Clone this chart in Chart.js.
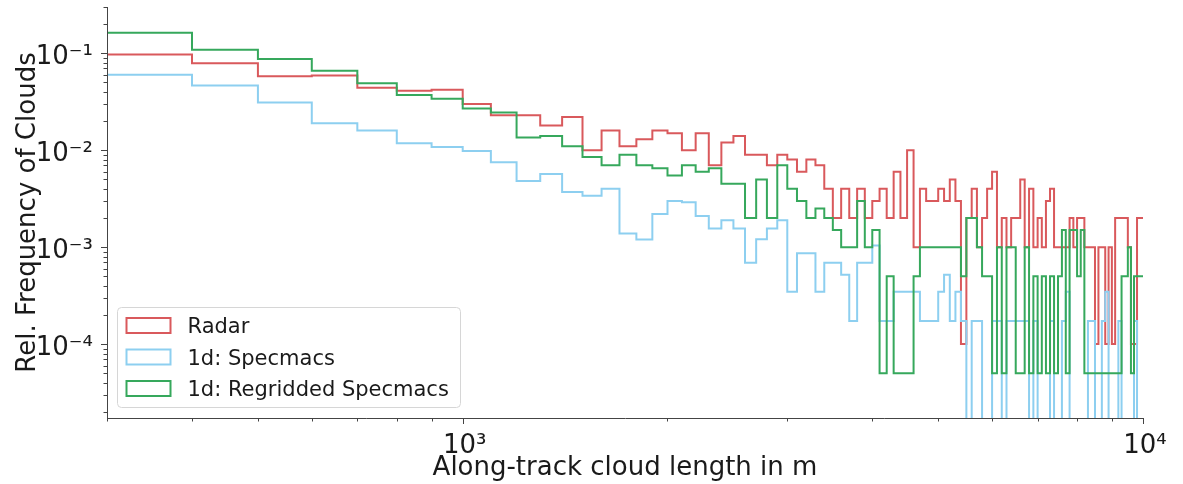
<!DOCTYPE html>
<html>
<head>
<meta charset="utf-8">
<script src="https://cdn.jsdelivr.net/npm/chart.js@4.4.1/dist/chart.umd.min.js"></script>
<style>
  html, body { margin: 0; padding: 0; background: #fff; }
  #wrap { width: 1183px; height: 484px; }
</style>
</head>
<body>
<div id="wrap"><canvas id="chart"></canvas></div>
<script>
// Histogram bin edges in m (100 m bins)
const BIN_EDGES = [
  300, 400, 500, 600, 700, 800, 900, 1000, 1100, 1200,
  1300, 1400, 1500, 1600, 1700, 1800, 1900, 2000, 2100, 2200,
  2300, 2400, 2500, 2600, 2700, 2800, 2900, 3000, 3100, 3200,
  3300, 3400, 3500, 3600, 3700, 3800, 3900, 4000, 4100, 4200,
  4300, 4400, 4500, 4600, 4700, 4800, 4900, 5000, 5100, 5200,
  5300, 5400, 5500, 5600, 5700, 5800, 5900, 6000, 6100, 6200,
  6300, 6400, 6500, 6600, 6700, 6800, 6900, 7000, 7100, 7200,
  7300, 7400, 7500, 7600, 7700, 7800, 7900, 8000, 8100, 8200,
  8300, 8400, 8500, 8600, 8700, 8800, 8900, 9000, 9100, 9200,
  9300, 9400, 9500, 9600, 9700, 9800, 9900, 10000
];

// Relative frequency per bin, one value per bin (bin i spans BIN_EDGES[i]..BIN_EDGES[i+1])
const RADAR = [
  0.097, 0.079, 0.058, 0.059, 0.044, 0.041, 0.042, 0.030, 0.023, 0.023,
  0.018, 0.022, 0.010, 0.016, 0.011, 0.013, 0.016, 0.015, 0.010, 0.015,
  0.007, 0.012, 0.014, 0.009, 0.009, 0.007, 0.009, 0.008, 0.006, 0.008,
  0.007, 0.004, 0.002, 0.004, 0.002, 0.004, 0.002, 0.003, 0.004, 0.002,
  0.006, 0.002, 0.010, 0.001, 0.004, 0.003, 0.003, 0.004, 0.003, 0.005,
  0.003, 0.0001, 0.002, 0.004, 0.001, 0.002, 0.004, 0.006, 0.001, 0.002,
  0.001, 0.002, 0.002, 0.005, 0.001, 0.004, 0.001, 0.002, 0.001, 0.003,
  0.004, 0.001, 0.001, 0.001, 0.001, 0.002, 0.001, 0.002, 0.002, 0.001,
  0.001, 0.001, 0.0001, 0.001, 0.001, 0.0001, 0.001, 0.0001, 0.002, 0.002,
  0.002, 0.002, 0.001, 0.0001, 0.0001, 0.002, 0.002
];

const SPECMACS = [
  0.060, 0.0465, 0.031, 0.019, 0.016, 0.0118, 0.0108, 0.0098, 0.0075, 0.0048,
  0.0057, 0.0037, 0.0034, 0.0040, 0.00138, 0.0012, 0.0022, 0.0030, 0.0029, 0.0021,
  0.00156, 0.0019, 0.00156, 0.00069, 0.00121, 0.00156, 0.0019, 0.000346, 0.000865, 0.000865,
  0.000346, 0.00069, 0.00069, 0.00052, 0.000173, 0.00069, 0.00069, 0.00104, 0.000173, 0.000173,
  0.000346, 0.000346, 0.000346, 0.000346, 0.000173, 0.000173, 0.000173, 0.000346, 0.00052, 0.000173,
  0.000346, 0.000173, 0, 0.000173, 0.000173, 0, 0, 0.000173, 0.000173, 0,
  0.000173, 0.000173, 0.000173, 0.000173, 0.000173, 0, 0.000173, 0, 0, 0,
  0.000173, 0, 0, 0.000173, 0.000346, 0, 0, 0, 0, 0,
  0.000173, 0.000173, 0, 0, 0.000173, 0.000346, 0, 0, 0, 0.000173,
  0, 0, 0, 0, 0.000173, 0, 0
];

const SPECMACS_REGRID = [
  0.163, 0.109, 0.087, 0.066, 0.049, 0.037, 0.034, 0.027, 0.0245, 0.0135,
  0.014, 0.011, 0.0085, 0.007, 0.009, 0.007, 0.0065, 0.0055, 0.007, 0.006,
  0.0065, 0.0045, 0.0045, 0.002, 0.005, 0.002, 0.007, 0.004, 0.003, 0.002,
  0.0025, 0.002, 0.0015, 0.001, 0.001, 0.003, 0.001, 0.0015, 0.00005, 0.0005,
  0.00005, 0.00005, 0.00005, 0.0005, 0.001, 0.001, 0.001, 0.001, 0.001, 0.001,
  0.001, 0.0005, 0.002, 0.002, 0.001, 0.0005, 0.0005, 0.00005, 0.001, 0.00005,
  0.001, 0.001, 0.00005, 0.00005, 0.001, 0.00005, 0.0005, 0.00005, 0.0005, 0.00005,
  0.0005, 0.00005, 0.0005, 0.0015, 0.00005, 0.0015, 0.0015, 0.0005, 0.0015, 0.00005,
  0.00005, 0.00005, 0.00005, 0.00005, 0.00005, 0.00005, 0.00005, 0.00005, 0.00005, 0.00005,
  0.0005, 0.0005, 0.001, 0.00005, 0.0005, 0.0005, 0.0005
];

const SERIES_NAMES = ['Radar', '1d: Specmacs', '1d: Regridded Specmacs'];
const X_MAJOR = [1000, 10000];
const X_MAJOR_LABELS = ['10³', '10⁴'];
const Y_MAJOR = [1e-4, 1e-3, 1e-2, 1e-1];
const Y_MAJOR_LABELS = ['10⁻⁴', '10⁻³', '10⁻²', '10⁻¹'];

const FONT = 'DejaVu Sans';
const TEXT_COLOR = '#1a1a1a';
const AXIS_COLOR = '#444444';
const COLORS = ['#d9595c', '#8dcff0', '#36a85c'];
// empty bins sit below the visible y range
const OFF_AXIS = 1e-7;

// step outline: one point per left bin edge plus the closing right edge
function stepPoints(values) {
  const pts = values.map((v, i) => ({ x: BIN_EDGES[i], y: v > 0 ? v : OFF_AXIS }));
  const last = values[values.length - 1];
  pts.push({ x: BIN_EDGES[values.length], y: last > 0 ? last : OFF_AXIS });
  return pts;
}

function logTicks(min, max) {
  const out = [];
  for (let e = Math.floor(Math.log10(min)); e <= Math.ceil(Math.log10(max)); e++) {
    for (let k = 1; k <= 9; k++) {
      const v = k * Math.pow(10, e);
      if (v >= min * 0.999 && v <= max * 1.001) out.push(v);
    }
  }
  return out;
}
const isDecade = v => Math.abs(Math.log10(v) - Math.round(Math.log10(v))) < 1e-9;

// matplotlib-style outward tick marks, long on decades
const tickMarks = {
  id: 'tickMarks',
  afterDraw(chart) {
    const { ctx, chartArea: a, scales: { x, y } } = chart;
    ctx.save();
    ctx.strokeStyle = AXIS_COLOR;
    ctx.lineWidth = 1;
    ctx.beginPath();
    logTicks(x.min, x.max).forEach(v => {
      const px = Math.round(x.getPixelForValue(v)) + 0.5;
      ctx.moveTo(px, a.bottom);
      ctx.lineTo(px, a.bottom + (isDecade(v) ? 6 : 3.5));
    });
    logTicks(y.min, y.max).forEach(v => {
      const py = Math.round(y.getPixelForValue(v)) + 0.5;
      ctx.moveTo(a.left, py);
      ctx.lineTo(a.left - (isDecade(v) ? 6 : 3.5), py);
    });
    ctx.stroke();
    ctx.restore();
  }
};

// legend box in the lower left corner of the plot
const insetLegend = {
  id: 'insetLegend',
  afterDatasetsDraw(chart) {
    const { ctx, chartArea: a } = chart;
    const bx = a.left + 10.5, by = a.bottom - 110.5, bw = 343, bh = 100;
    ctx.save();
    ctx.beginPath();
    ctx.roundRect(bx, by, bw, bh, 4);
    ctx.fillStyle = 'rgba(255,255,255,0.85)';
    ctx.fill();
    ctx.strokeStyle = '#d6d6d6';
    ctx.lineWidth = 1;
    ctx.stroke();

    ctx.font = '21px "' + FONT + '"';
    ctx.textBaseline = 'alphabetic';
    ctx.textAlign = 'left';
    chart.data.datasets.forEach((ds, i) => {
      const cy = by + 17.5 + i * 31.5;
      ctx.strokeStyle = ds.borderColor;
      ctx.lineWidth = 2;
      ctx.strokeRect(bx + 9, cy - 7, 44, 15);
      ctx.fillStyle = TEXT_COLOR;
      ctx.fillText(ds.label, bx + 70, cy + 8);
    });
    ctx.restore();
  }
};

const series = [RADAR, SPECMACS, SPECMACS_REGRID];

new Chart(document.getElementById('chart'), {
  type: 'line',
  data: {
    datasets: series.map((vals, i) => ({
      label: SERIES_NAMES[i],
      data: stepPoints(vals),
      borderColor: COLORS[i],
      borderWidth: 2,
      pointRadius: 0,
      stepped: true,
      fill: false,
      order: 3 - i
    }))
  },
  options: {
    responsive: true,
    maintainAspectRatio: false,
    devicePixelRatio: 1,
    animation: false,
    events: [],
    layout: { padding: { top: 7, right: 40, bottom: 0, left: 0 } },
    plugins: { legend: { display: false }, tooltip: { enabled: false } },
    scales: {
      x: {
        type: 'logarithmic',
        min: 300,
        max: 10000,
        grid: { display: false },
        border: { display: true, color: AXIS_COLOR, width: 1, z: 1 },
        afterBuildTicks: s => { s.ticks = X_MAJOR.map(v => ({ value: v })); },
        ticks: {
          autoSkip: false,
          maxRotation: 0,
          padding: 5,
          labelOffset: 2,
          color: TEXT_COLOR,
          font: { family: FONT, size: 26 },
          callback: (v, i) => X_MAJOR_LABELS[i]
        },
        title: {
          display: true,
          text: 'Along-track cloud length in m',
          color: TEXT_COLOR,
          font: { family: FONT, size: 26 },
          padding: { top: 0, bottom: 0 }
        },
        afterFit: s => { s.height = 66; s.paddingLeft = 0; s.paddingRight = 0; }
      },
      y: {
        type: 'logarithmic',
        min: 1.73e-5,
        max: 0.3,
        grid: { display: false },
        border: { display: true, color: AXIS_COLOR, width: 1, z: 1 },
        afterBuildTicks: s => { s.ticks = Y_MAJOR.map(v => ({ value: v })); },
        ticks: {
          autoSkip: false,
          padding: 6,
          labelOffset: 4,
          color: TEXT_COLOR,
          font: { family: FONT, size: 26 },
          callback: (v, i) => Y_MAJOR_LABELS[i]
        },
        title: {
          display: true,
          text: 'Rel. Frequency of Clouds',
          color: TEXT_COLOR,
          font: { family: FONT, size: 26 },
          padding: { top: 13, bottom: 0 }
        },
        afterFit: s => { s.width = 107; s.paddingTop = 0; s.paddingBottom = 0; }
      }
    }
  },
  plugins: [tickMarks, insetLegend]
});
</script>
</body>
</html>
